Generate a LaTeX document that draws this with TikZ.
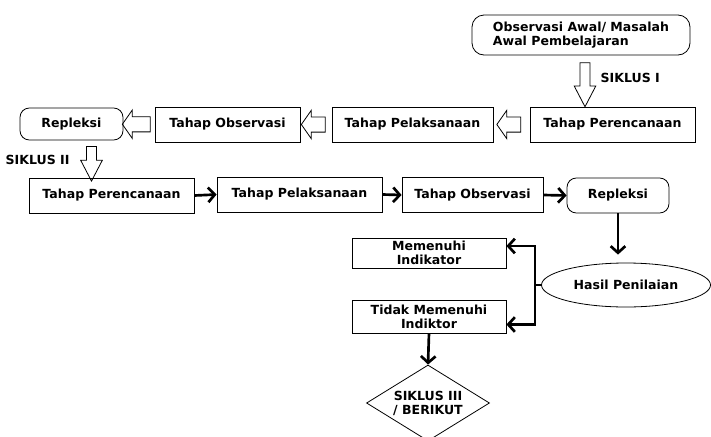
\documentclass[tikz,border=0pt]{standalone}
\usepackage{fontspec}
\setmainfont{DejaVu Sans}
\usetikzlibrary{shapes.geometric,shapes.arrows,arrows.meta,calc}

\begin{document}
\begin{tikzpicture}[x=0.75pt,y=-0.75pt,
		font=\fontsize{9.4}{10.5}\selectfont\bfseries,
		kotak/.style={draw,line width=0.6pt,minimum height=26.25pt,inner sep=2pt},
		bulat/.style={kotak,rounded corners=7pt},
		panah/.style={line width=2pt,-{Straight Barb[length=5pt,width=11pt]}},
		hollowleft/.style={single arrow,draw,line width=0.6pt,shape border rotate=180,
			inner xsep=1pt,inner ysep=5.4pt,single arrow head extend=5pt,
			single arrow tip angle=110,minimum height=18pt},
		hollowdown/.style={single arrow,draw,line width=0.6pt,shape border rotate=270,
			inner sep=3.4pt,single arrow head extend=4.4pt,
			single arrow tip angle=55}]
			\useasboundingbox (0,0) rectangle (711,436);
			% kotak baris atas
			\node[bulat,rounded corners=9pt,minimum width=163.5pt,minimum height=30pt,align=left]
				(awal) at (581,35) {Observasi Awal/ Masalah\\Awal Pembelajaran};
			\node[kotak,minimum width=123.75pt] (per1) at (612.5,124.5) {Tahap Perencanaan};
			\node[kotak,minimum width=120.75pt] (pel1) at (412.5,124.5) {Tahap Pelaksanaan};
			\node[kotak,minimum width=108.75pt] (obs1) at (227.5,124.5) {Tahap Observasi};
			\node[bulat,minimum width=77.25pt,minimum height=24pt] (rep1) at (71.5,124) {Repleksi};
			% kotak baris kedua
			\node[kotak,minimum width=123.75pt] (per2) at (111.5,195.5) {Tahap Perencanaan};
			\node[kotak,minimum width=123.75pt] (pel2) at (299.5,194.5) {Tahap Pelaksanaan};
			\node[kotak,minimum width=105.75pt] (obs2) at (472.5,195) {Tahap Observasi};
			\node[bulat,minimum width=76.5pt] (rep2) at (618,195.5) {Repleksi};
			% hasil penilaian
			\node[draw,ellipse,line width=0.6pt,minimum width=126.75pt,minimum height=33pt]
				(hasil) at (626,285) {Hasil Penilaian};
			\node[kotak,minimum width=115.5pt,minimum height=22.5pt,align=center]
				(mem) at (429,253) {Memenuhi\\Indikator};
			\node[kotak,minimum width=115.5pt,minimum height=24.75pt,align=center]
				(tidak) at (429,316.5) {Tidak Memenuhi\\Indiktor};
			\node[draw,diamond,line width=0.6pt,aspect=1.62,inner sep=0pt,
				minimum width=92.25pt,minimum height=57pt,align=center]
				(sik3) at (428,403) {SIKLUS III\\/ BERIKUT};
			% panah kosong
			\node[hollowdown,minimum height=33pt] (h1) at (585,80) {};
			\node[right] (lsik1) at (596,78) {SIKLUS I};
			\node[hollowleft] (h2) at ($(per1.west)!0.5!(pel1.east)$) {};
			\node[hollowleft] (h3) at ($(pel1.west)!0.5!(obs1.east)$) {};
			\node[hollowleft,minimum height=21pt] (h4) at ($(obs1.west)!0.5!(rep1.east)$) {};
			\node[hollowdown,minimum height=26pt] (h5) at ($(rep1.south)!0.5!(per2.north)$) {};
			\node[right] (lsik2) at (1,160) {SIKLUS II};
			% panah hitam
			\draw[panah] (per2.east) -- (pel2.west);
			\draw[panah] (pel2.east) -- (obs2.west);
			\draw[panah] (obs2.east) -- (rep2.west);
			\draw[panah] (rep2.south) -- ($(rep2.south|-hasil.north)+(0,-8)$);
			\coordinate (bus) at (535,0);
			\draw[line width=2pt] (hasil.west) -- (bus|-hasil.west);
			\draw[panah] (bus|-hasil.west) |- ([yshift=5.25pt]mem.east);
			\draw[panah] (bus|-hasil.west) |- ([yshift=-6pt]tidak.east);
			\draw[panah] (tidak.south) -- (sik3.north);
		\end{tikzpicture}
\end{document}
